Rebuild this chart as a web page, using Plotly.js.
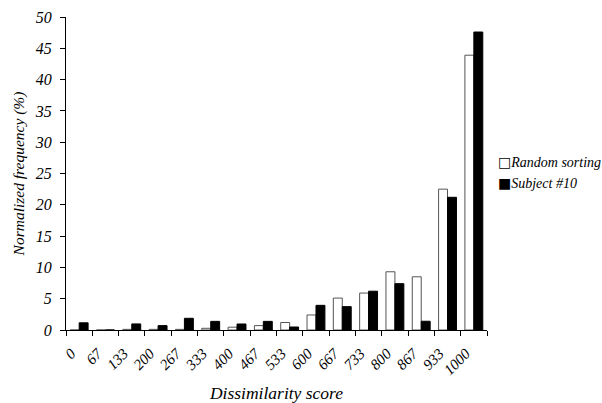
<!DOCTYPE html>
<html><head><meta charset="utf-8">
<script src="https://cdn.plot.ly/plotly-3.0.1.min.js"></script>
<style>html,body{margin:0;padding:0;background:#fff}#c{width:602px;height:403px}</style>
</head><body><div id="c"></div>
<script>
var categories = ["0","67","133","200","267","333","400","467","533","600","667","733","800","867","933","1000"];
var randomSorting = [0, 0, 0.1, 0.1, 0.1, 0.27, 0.45, 0.7, 1.2, 2.4, 5.1, 5.9, 9.3, 8.5, 22.5, 43.9];
var subject10 = [1.15, 0, 0.97, 0.7, 1.87, 1.38, 0.96, 1.38, 0.48, 3.94, 3.73, 6.2, 7.4, 1.4, 21.2, 47.6];
var yTicks = [0,5,10,15,20,25,30,35,40,45,50];
var seriesNames = ["Random sorting", "Subject #10"];

var F = "Liberation Serif";
var traces = [
  {type:"bar", name:seriesNames[0], x:categories, y:randomSorting, showlegend:false,
   marker:{color:"#ffffff", line:{color:"#555555", width:1}}},
  {type:"bar", name:seriesNames[1], x:categories, y:subject10, showlegend:false,
   marker:{color:"#000000", line:{color:"#000000", width:1}}}
];
var layout = {
  width:602, height:403,
  margin:{l:66, r:115, t:17, b:73},
  paper_bgcolor:"#fff", plot_bgcolor:"#fff",
  barmode:"group", bargap:0.32, bargroupgap:0,
  font:{family:F, size:14, color:"#000", style:"italic"},
  showlegend:false,
  xaxis:{type:"category", tickson:"boundaries", ticks:"outside", ticklen:5, tickcolor:"#000",
    showline:true, linecolor:"#000", linewidth:1, showgrid:false, zeroline:false,
    tickangle:-45, ticklabelshift:-8, ticklabelstandoff:8,
    tickfont:{family:F, size:15, style:"italic"},
    title:{text:"Dissimilarity score", font:{family:F, size:17.5, style:"italic"}, standoff:11}},
  yaxis:{range:[0,50], tickvals:yTicks, ticks:"outside", ticklen:5, tickcolor:"#000",
    showline:true, linecolor:"#000", linewidth:1, showgrid:false, zeroline:false,
    ticklabelstandoff:5,
    tickfont:{family:F, size:16, style:"italic"},
    title:{text:"Normalized frequency (%)", font:{family:F, size:15.5, style:"italic"}, standoff:6}},
  annotations:[
    {xref:"paper", yref:"paper", x:1.022, y:0.537, xanchor:"left", yanchor:"middle", showarrow:false,
     text:"<span style='font-style:normal;font-family:DejaVu Sans'>□</span><i>" + seriesNames[0] + "</i>",
     font:{family:F, size:14, style:"italic", color:"#000"}},
    {xref:"paper", yref:"paper", x:1.022, y:0.470, xanchor:"left", yanchor:"middle", showarrow:false,
     text:"<span style='font-style:normal;font-family:DejaVu Sans'>■</span><i>" + seriesNames[1] + "</i>",
     font:{family:F, size:14, style:"italic", color:"#000"}}
  ]
};
Plotly.newPlot("c", traces, layout, {staticPlot:true, displayModeBar:false});
</script></body></html>
